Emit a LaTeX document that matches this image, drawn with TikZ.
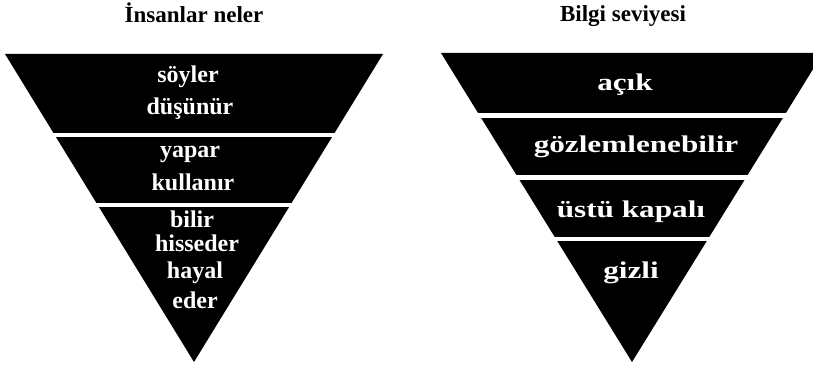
\documentclass[tikz,border=0pt]{standalone}
\usepackage{fontspec}
\setmainfont{Liberation Serif}
\usepackage{graphicx}
\usepackage{tikz}

\newcommand{\wideword}[1]{\scalebox{1.3}[1]{#1}}

\begin{document}
\begin{tikzpicture}[x=1pt, y=-1pt,
  title/.style={font=\bfseries\fontsize{23}{26}\selectfont, anchor=base, inner sep=0pt},
  word/.style={font=\bfseries\fontsize{24}{28}\selectfont, text=white, anchor=base, inner sep=0pt},
  gap/.style={white, line width=4.5pt}]
\useasboundingbox (0,0) rectangle (813,366);
\clip (0,0) rectangle (813,366);

% left pyramid
\fill (5,54) -- (383,54) -- (194,362) -- cycle;
\draw[gap] (0,135) -- (400,135);
\draw[gap] (0,205) -- (400,205);

\node[title] (lefttitle) at (194,23) {İnsanlar neler};
\node[word] (soyler) at (188,83) {söyler};
\node[word] (dusunur) at (190,115) {düşünür};
\node[word] (yapar) at (190,158) {yapar};
\node[word] (kullanir) at (193,190) {kullanır};
\node[word] (bilir) at (192,227) {bilir};
\node[word] (hisseder) at (197,251) {hisseder};
\node[word] (hayal) at (195,278) {hayal};
\node[word] (eder) at (195,308) {eder};

% right pyramid
\fill (441,53) -- (823,53) -- (632,362) -- cycle;
\draw[gap] (420,115.5) -- (813,115.5);
\draw[gap] (420,177.5) -- (813,177.5);
\draw[gap] (420,239) -- (813,239);

\node[title] (righttitle) at (623,22) {Bilgi seviyesi};
\node[word] (acik) at (625,91) {\wideword{açık}};
\node[word] (gozlem) at (636,153) {\wideword{gözlemlenebilir}};
\node[word] (ustu) at (631,217) {\wideword{üstü kapalı}};
\node[word] (gizli) at (631,278) {\wideword{gizli}};
\end{tikzpicture}
\end{document}
